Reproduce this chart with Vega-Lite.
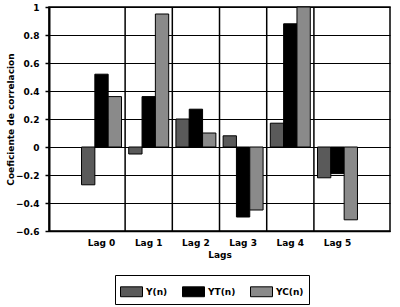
{
  "$schema": "https://vega.github.io/schema/vega-lite/v6.json",
  "width": 341,
  "height": 224,
  "autosize": "none",
  "padding": {"left": 49, "top": 7, "right": 10, "bottom": 76},
  "background": "white",
  "config": {
    "view": {"stroke": "black", "strokeWidth": 1.5},
    "font": "DejaVu Sans"
  },
  "datasets": {
    "bars": [
      {"lag": "Lag 0", "series": "Y(n)", "value": -0.27},
      {"lag": "Lag 0", "series": "YT(n)", "value": 0.52},
      {"lag": "Lag 0", "series": "YC(n)", "value": 0.36},
      {"lag": "Lag 1", "series": "Y(n)", "value": -0.05},
      {"lag": "Lag 1", "series": "YT(n)", "value": 0.36},
      {"lag": "Lag 1", "series": "YC(n)", "value": 0.95},
      {"lag": "Lag 2", "series": "Y(n)", "value": 0.2},
      {"lag": "Lag 2", "series": "YT(n)", "value": 0.27},
      {"lag": "Lag 2", "series": "YC(n)", "value": 0.1},
      {"lag": "Lag 3", "series": "Y(n)", "value": 0.08},
      {"lag": "Lag 3", "series": "YT(n)", "value": -0.5},
      {"lag": "Lag 3", "series": "YC(n)", "value": -0.45},
      {"lag": "Lag 4", "series": "Y(n)", "value": 0.17},
      {"lag": "Lag 4", "series": "YT(n)", "value": 0.88},
      {"lag": "Lag 4", "series": "YC(n)", "value": 1.0},
      {"lag": "Lag 5", "series": "Y(n)", "value": -0.22},
      {"lag": "Lag 5", "series": "YT(n)", "value": -0.19},
      {"lag": "Lag 5", "series": "YC(n)", "value": -0.52}
    ],
    "seps": [
      {"lag": "Lag 1"}, {"lag": "Lag 2"}, {"lag": "Lag 3"}, {"lag": "Lag 4"}, {"lag": "Lag 5"}
    ]
  },
  "layer": [
    {
      "data": {"name": "bars"},
      "mark": {"type": "bar", "stroke": "black", "strokeWidth": 1},
      "encoding": {
        "x": {
          "field": "lag", "type": "nominal",
          "scale": {"domain": ["Lag 0", "Lag 1", "Lag 2", "Lag 3", "Lag 4", "Lag 5"], "paddingInner": 0.153, "paddingOuter": 0.689},
          "axis": {
            "title": "Lags", "labelAngle": 0, "ticks": false, "grid": false,
            "domain": true, "domainColor": "black", "domainWidth": 1.5,
            "labelFont": "DejaVu Sans", "labelFontWeight": "bold", "labelFontSize": 9, "labelColor": "black", "labelPadding": 7,
            "titleFont": "DejaVu Sans", "titleFontWeight": "bold", "titleFontSize": 9, "titleColor": "black", "titlePadding": 3
          }
        },
        "xOffset": {"field": "series", "type": "nominal", "sort": ["Y(n)", "YT(n)", "YC(n)"], "scale": {"paddingInner": 0, "paddingOuter": 0}},
        "y": {
          "field": "value", "type": "quantitative",
          "scale": {"domain": [-0.6, 1], "nice": false, "zero": false},
          "axis": {
            "title": "Coeficiente de correlacion",
            "values": [-0.6, -0.4, -0.2, 0, 0.2, 0.4, 0.6, 0.8, 1],
            "format": ".1~f",
            "grid": true, "gridColor": "black", "gridWidth": 1, "gridOpacity": 1,
            "domainColor": "black", "domainWidth": 2,
            "tickColor": "black", "tickSize": 4, "tickWidth": 1.5,
            "labelFont": "DejaVu Sans", "labelFontWeight": "bold", "labelFontSize": 9, "labelColor": "black", "labelPadding": 6,
            "titleFont": "DejaVu Sans", "titleFontWeight": "bold", "titleFontSize": 9, "titleColor": "black", "titlePadding": 0
          }
        },
        "color": {
          "field": "series", "type": "nominal",
          "sort": ["Y(n)", "YT(n)", "YC(n)"],
          "scale": {"domain": ["Y(n)", "YT(n)", "YC(n)"], "range": ["#5a5a5a", "#000000", "#8a8a8a"]},
          "legend": {
            "orient": "none", "legendX": 66, "legendY": 268, "direction": "horizontal",
            "title": null, "strokeColor": "black", "padding": 5,
            "symbolType": "M-1,-0.45L1,-0.45L1,0.45L-1,0.45Z", "symbolSize": 484,
            "symbolStrokeColor": "black", "symbolStrokeWidth": 1, "symbolOpacity": 1,
            "labelFont": "DejaVu Sans", "labelFontWeight": "bold", "labelFontSize": 9, "labelColor": "black",
            "labelOffset": 3, "columnPadding": 12
          }
        }
      }
    },
    {
      "data": {"name": "seps"},
      "mark": {"type": "rule", "color": "black", "strokeWidth": 1.5},
      "encoding": {
        "x": {"field": "lag", "type": "nominal", "bandPosition": -0.09}
      }
    }
  ]
}
